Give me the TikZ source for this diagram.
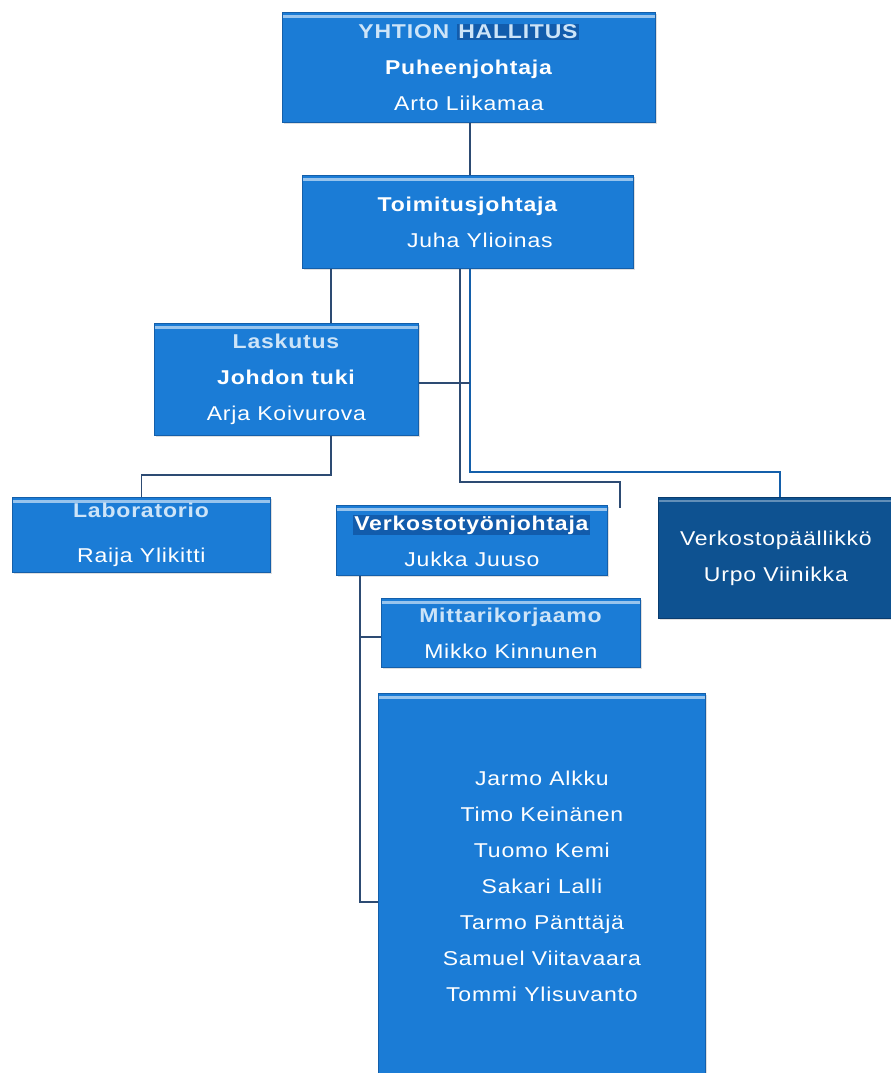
\documentclass[tikz,border=0pt]{standalone}
\usepackage{fontspec}
\setmainfont{Liberation Sans}[FakeStretch=1.15, LetterSpace=4]
\usetikzlibrary{shadows,calc}
\definecolor{boxblue}{RGB}{27,124,214}
\definecolor{boxedge}{RGB}{20,95,170}
\definecolor{darkbox}{RGB}{14,82,145}
\definecolor{darkedge}{RGB}{10,60,110}
\definecolor{hlblue}{RGB}{18,92,172}
\definecolor{linecol}{RGB}{45,75,115}
\definecolor{titletext}{RGB}{205,228,248}
\begin{document}
\begin{tikzpicture}[x=1pt,y=-1pt,
  orgbox/.style={draw=boxedge, line width=0.8pt, fill=boxblue, inner sep=0pt,
    text=white, align=center, anchor=north west,
    font=\fontsize{20}{36}\selectfont,
    drop shadow={opacity=0.25, shadow xshift=2pt, shadow yshift=-2pt},
    path picture={\draw[white!55!boxblue, line width=2.5pt]
      ([yshift=-4pt]path picture bounding box.north west) --
      ([yshift=-4pt]path picture bounding box.north east);}},
  darkorgbox/.style={orgbox, draw=darkedge, fill=darkbox,
    path picture={\draw[white!35!darkbox, line width=2pt]
      ([yshift=-4pt]path picture bounding box.north west) --
      ([yshift=-4pt]path picture bounding box.north east);}},
  conn/.style={draw=linecol, line width=1.2pt},
  connblue/.style={draw=boxedge, line width=1.6pt},
  ttl/.style={},
]
\useasboundingbox[fill=white] (0,0) rectangle (891,1073);

% boxes
\node[orgbox, minimum width=373pt, minimum height=110pt] (hall) at (282,12)
  {{\color{titletext}\textbf{YHTION} }{\setlength\fboxsep{1pt}\colorbox{hlblue}{\color{titletext}\textbf{HALLITUS}}}\\
   \textbf{Puheenjohtaja}\\ Arto Liikamaa};
\node[orgbox, minimum width=331pt, minimum height=93pt] (toim) at (302,175)
  {\textbf{Toimitusjohtaja}\\ \hspace*{24pt}Juha Ylioinas};
\node[orgbox, minimum width=264pt, minimum height=112pt] (lask) at (154,323)
  {{\color{titletext}\textbf{Laskutus}}\\ \textbf{Johdon tuki}\\ Arja Koivurova};
\node[orgbox, minimum width=258pt, minimum height=75pt, font=\fontsize{20}{45}\selectfont] (lab) at (12,497)
  {{\color{titletext}\textbf{Laboratorio}}\\ Raija Ylikitti};
\node[orgbox, minimum width=271pt, minimum height=70pt] (vtj) at (336,505)
  {{\setlength\fboxsep{1pt}\colorbox{hlblue}{\textbf{Verkostotyönjohtaja}}}\\ Jukka Juuso};
\node[darkorgbox, minimum width=235pt, minimum height=121pt] (vpaa) at (658,497)
  {Verkostopäällikkö\\ Urpo Viinikka};
\node[orgbox, minimum width=259pt, minimum height=69pt] (mitt) at (381,598)
  {{\color{titletext}\textbf{Mittarikorjaamo}}\\ Mikko Kinnunen};
\node[orgbox, minimum width=327pt, minimum height=385pt] (staff) at (378,693)
  {Jarmo Alkku\\ Timo Keinänen\\ Tuomo Kemi\\ Sakari Lalli\\ Tarmo Pänttäjä\\ Samuel Viitavaara\\ Tommi Ylisuvanto};

% connectors
\coordinate (e1) at (620,508);
\draw[conn] (hall.south -| 470,0) -- (toim.north -| 470,0);
\draw[conn] (toim.south -| 331,0) -- (lask.north -| 331,0);
\draw[conn] (toim.south -| 460,0) |- (e1 |- 0,482) -- (e1);
\draw[connblue] (toim.south -| 470,0) |- (780,472) -- (vpaa.north -| 780,0);
\draw[conn] (lask.east |- 0,383) -- (470,383);
\draw[conn] (lask.south -| 331,0) |- (lab.north |- 0,475) -- (lab.north);
\draw[conn] (vtj.south -| 360,0) |- (staff.west |- 0,902);
\draw[conn] (360,637) -- (mitt.west |- 0,637);
\end{tikzpicture}
\end{document}
